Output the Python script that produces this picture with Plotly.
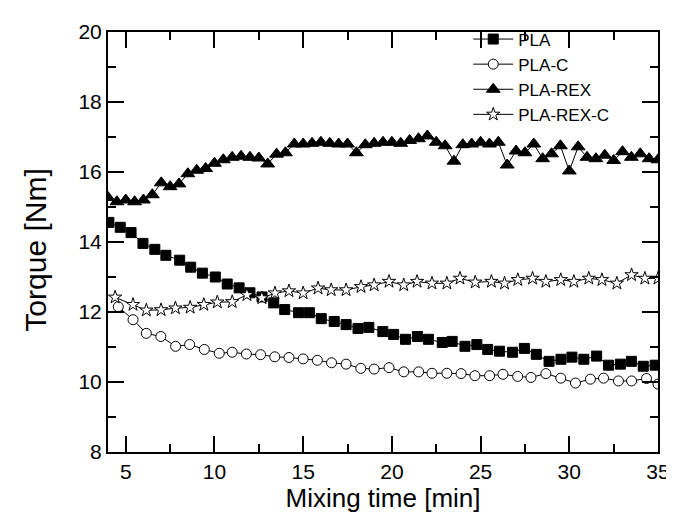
import plotly.graph_objects as go

# ---------------- data ----------------
pla_x = [4.05, 4.69, 5.30, 5.97, 6.64, 7.26, 8.04, 8.66, 9.32, 10.05, 10.72, 11.39,
         12.00, 12.68, 13.34, 13.96, 14.74, 15.35, 16.02, 16.75, 17.42, 18.09, 18.70,
         19.49, 20.10, 20.77, 21.44, 22.06, 22.84, 23.40, 24.12, 24.79, 25.40, 26.07,
         26.80, 27.47, 28.14, 28.86, 29.53, 30.15, 30.82, 31.54, 32.21, 32.88, 33.50,
         34.17, 34.84]
pla_y = [14.56, 14.42, 14.27, 13.96, 13.79, 13.62, 13.48, 13.28, 13.11, 13.00, 12.80, 12.69,
         12.55, 12.43, 12.26, 12.07, 11.98, 11.98, 11.81, 11.73, 11.64, 11.53, 11.56,
         11.44, 11.36, 11.22, 11.30, 11.22, 11.13, 11.16, 11.02, 11.07, 10.93, 10.88,
         10.85, 10.96, 10.79, 10.59, 10.65, 10.71, 10.65, 10.74, 10.48, 10.51, 10.59,
         10.45, 10.48]

plac_x = [4.58, 5.41, 6.16, 6.98, 7.81, 8.60, 9.43, 10.27, 11.00, 11.80, 12.60, 13.40,
          14.20, 15.00, 15.80, 16.60, 17.42, 18.25, 19.00, 19.84, 20.67, 21.51, 22.26,
          23.10, 23.90, 24.68, 25.51, 26.26, 27.09, 27.84, 28.68, 29.52, 30.35, 31.19,
          31.93, 32.77, 33.51, 34.35, 35.00]
plac_y = [12.15, 11.78, 11.39, 11.30, 11.02, 11.07, 10.93, 10.82, 10.85, 10.80, 10.78, 10.72,
          10.70, 10.66, 10.62, 10.55, 10.51, 10.39, 10.37, 10.41, 10.29, 10.29, 10.25,
          10.25, 10.24, 10.18, 10.18, 10.22, 10.16, 10.13, 10.24, 10.11, 9.97, 10.08,
          10.11, 10.03, 10.03, 10.10, 9.94]

rex_x = [4.0, 4.5, 5.0, 5.5, 6.0, 6.5, 7.0, 7.5, 8.0, 8.5, 9.0, 9.5, 10.0, 10.5, 11.0,
         11.5, 12.0, 12.5, 13.0, 13.5, 14.0, 14.5, 15.0, 15.5, 16.0, 16.5, 17.0, 17.5,
         18.0, 18.5, 19.0, 19.5, 20.0, 20.5, 21.0, 21.5, 22.0, 22.5, 23.0, 23.5, 24.0,
         24.5, 25.0, 25.5, 26.0, 26.5, 27.0, 27.5, 28.0, 28.5, 29.0, 29.5, 30.0, 30.5,
         31.0, 31.5, 32.0, 32.5, 33.0, 33.5, 34.0, 34.5, 35.0]
rex_y = [15.27, 15.15, 15.20, 15.15, 15.20, 15.35, 15.69, 15.58, 15.66, 15.95, 16.05, 16.10,
         16.25, 16.35, 16.42, 16.45, 16.42, 16.40, 16.23, 16.51, 16.55, 16.80, 16.80, 16.82,
         16.85, 16.82, 16.80, 16.80, 16.55, 16.78, 16.82, 16.85, 16.85, 16.82, 16.90, 16.95,
         17.03, 16.85, 16.75, 16.31, 16.78, 16.80, 16.85, 16.80, 16.85, 16.20, 16.60, 16.55,
         16.80, 16.38, 16.52, 16.75, 16.03, 16.72, 16.42, 16.38, 16.48, 16.33, 16.58, 16.42,
         16.52, 16.38, 16.35]

rexc_x = [4.40, 5.41, 6.16, 6.99, 7.80, 8.63, 9.40, 10.16, 11.00, 11.83, 12.67, 13.41,
          14.20, 15.00, 15.84, 16.58, 17.42, 18.26, 19.00, 19.84, 20.67, 21.42, 22.26,
          23.10, 23.84, 24.70, 25.61, 26.35, 27.10, 27.93, 28.68, 29.52, 30.26, 31.10,
          31.84, 32.68, 33.51, 34.26, 35.00]
rexc_y = [12.42, 12.21, 12.05, 12.06, 12.11, 12.13, 12.21, 12.28, 12.29, 12.49, 12.40, 12.54,
          12.60, 12.54, 12.68, 12.63, 12.63, 12.72, 12.77, 12.87, 12.77, 12.87, 12.82,
          12.82, 12.96, 12.85, 12.87, 12.82, 12.92, 12.96, 12.87, 12.92, 12.87, 12.96,
          12.92, 12.82, 13.06, 12.96, 12.96]

x_ticks = [5, 10, 15, 20, 25, 30, 35]
y_ticks = [8, 10, 12, 14, 16, 18, 20]

FONT = "Arial, Liberation Sans, sans-serif"

fig = go.Figure()

def add(name, x, y, symbol, size, fill):
    fig.add_trace(go.Scatter(
        x=x, y=y, name=name, mode="lines+markers",
        line=dict(color="black", width=1),
        marker=dict(symbol=symbol, size=size, color=fill,
                    line=dict(color="black", width=1)),
    ))

add("PLA", pla_x, pla_y, "square", 10, "black")
add("PLA-C", plac_x, plac_y, "circle", 10, "white")
add("PLA-REX", rex_x, rex_y, "triangle-up", 12, "black")
add("PLA-REX-C", rexc_x, rexc_y, "star", 10, "white")

axis_common = dict(
    showline=True, linecolor="black", linewidth=2, mirror="ticks",
    ticks="inside", ticklen=16, tickwidth=1.5, tickcolor="black",
    showgrid=False, zeroline=False,
    tickfont=dict(family=FONT, size=21, color="black"),
)

fig.update_xaxes(
    range=[4, 35], tickvals=x_ticks,
    minor=dict(ticks="inside", ticklen=8, tickwidth=1.5, tickcolor="black", dtick=2.5, tick0=2.5, showgrid=False),
    title=dict(text="Mixing time [min]", font=dict(family=FONT, size=26, color="black"), standoff=6),
    **axis_common,
)
fig.update_yaxes(
    range=[8, 20], tickvals=y_ticks,
    minor=dict(ticks="inside", ticklen=8, tickwidth=1.5, tickcolor="black", dtick=1, tick0=1, showgrid=False),
    **axis_common,
)

fig.add_annotation(
    text="Torque [Nm]", textangle=-90, showarrow=False,
    xref="paper", yref="paper", x=-0.1315, y=0.481,
    xanchor="center", yanchor="middle",
    font=dict(family=FONT, size=30, color="black"),
)

fig.update_layout(
    width=674, height=517,
    margin=dict(l=100, r=19, t=20, b=73),
    plot_bgcolor="white", paper_bgcolor="white",
    showlegend=True,
    legend=dict(x=0.655, y=1.025, xanchor="left", yanchor="top",
                bgcolor="rgba(0,0,0,0)", borderwidth=0,
                font=dict(family=FONT, size=17, color="black"),
                tracegroupgap=0, itemwidth=40),
    font=dict(family=FONT, color="black"),
)

fig.write_html("out.html")
